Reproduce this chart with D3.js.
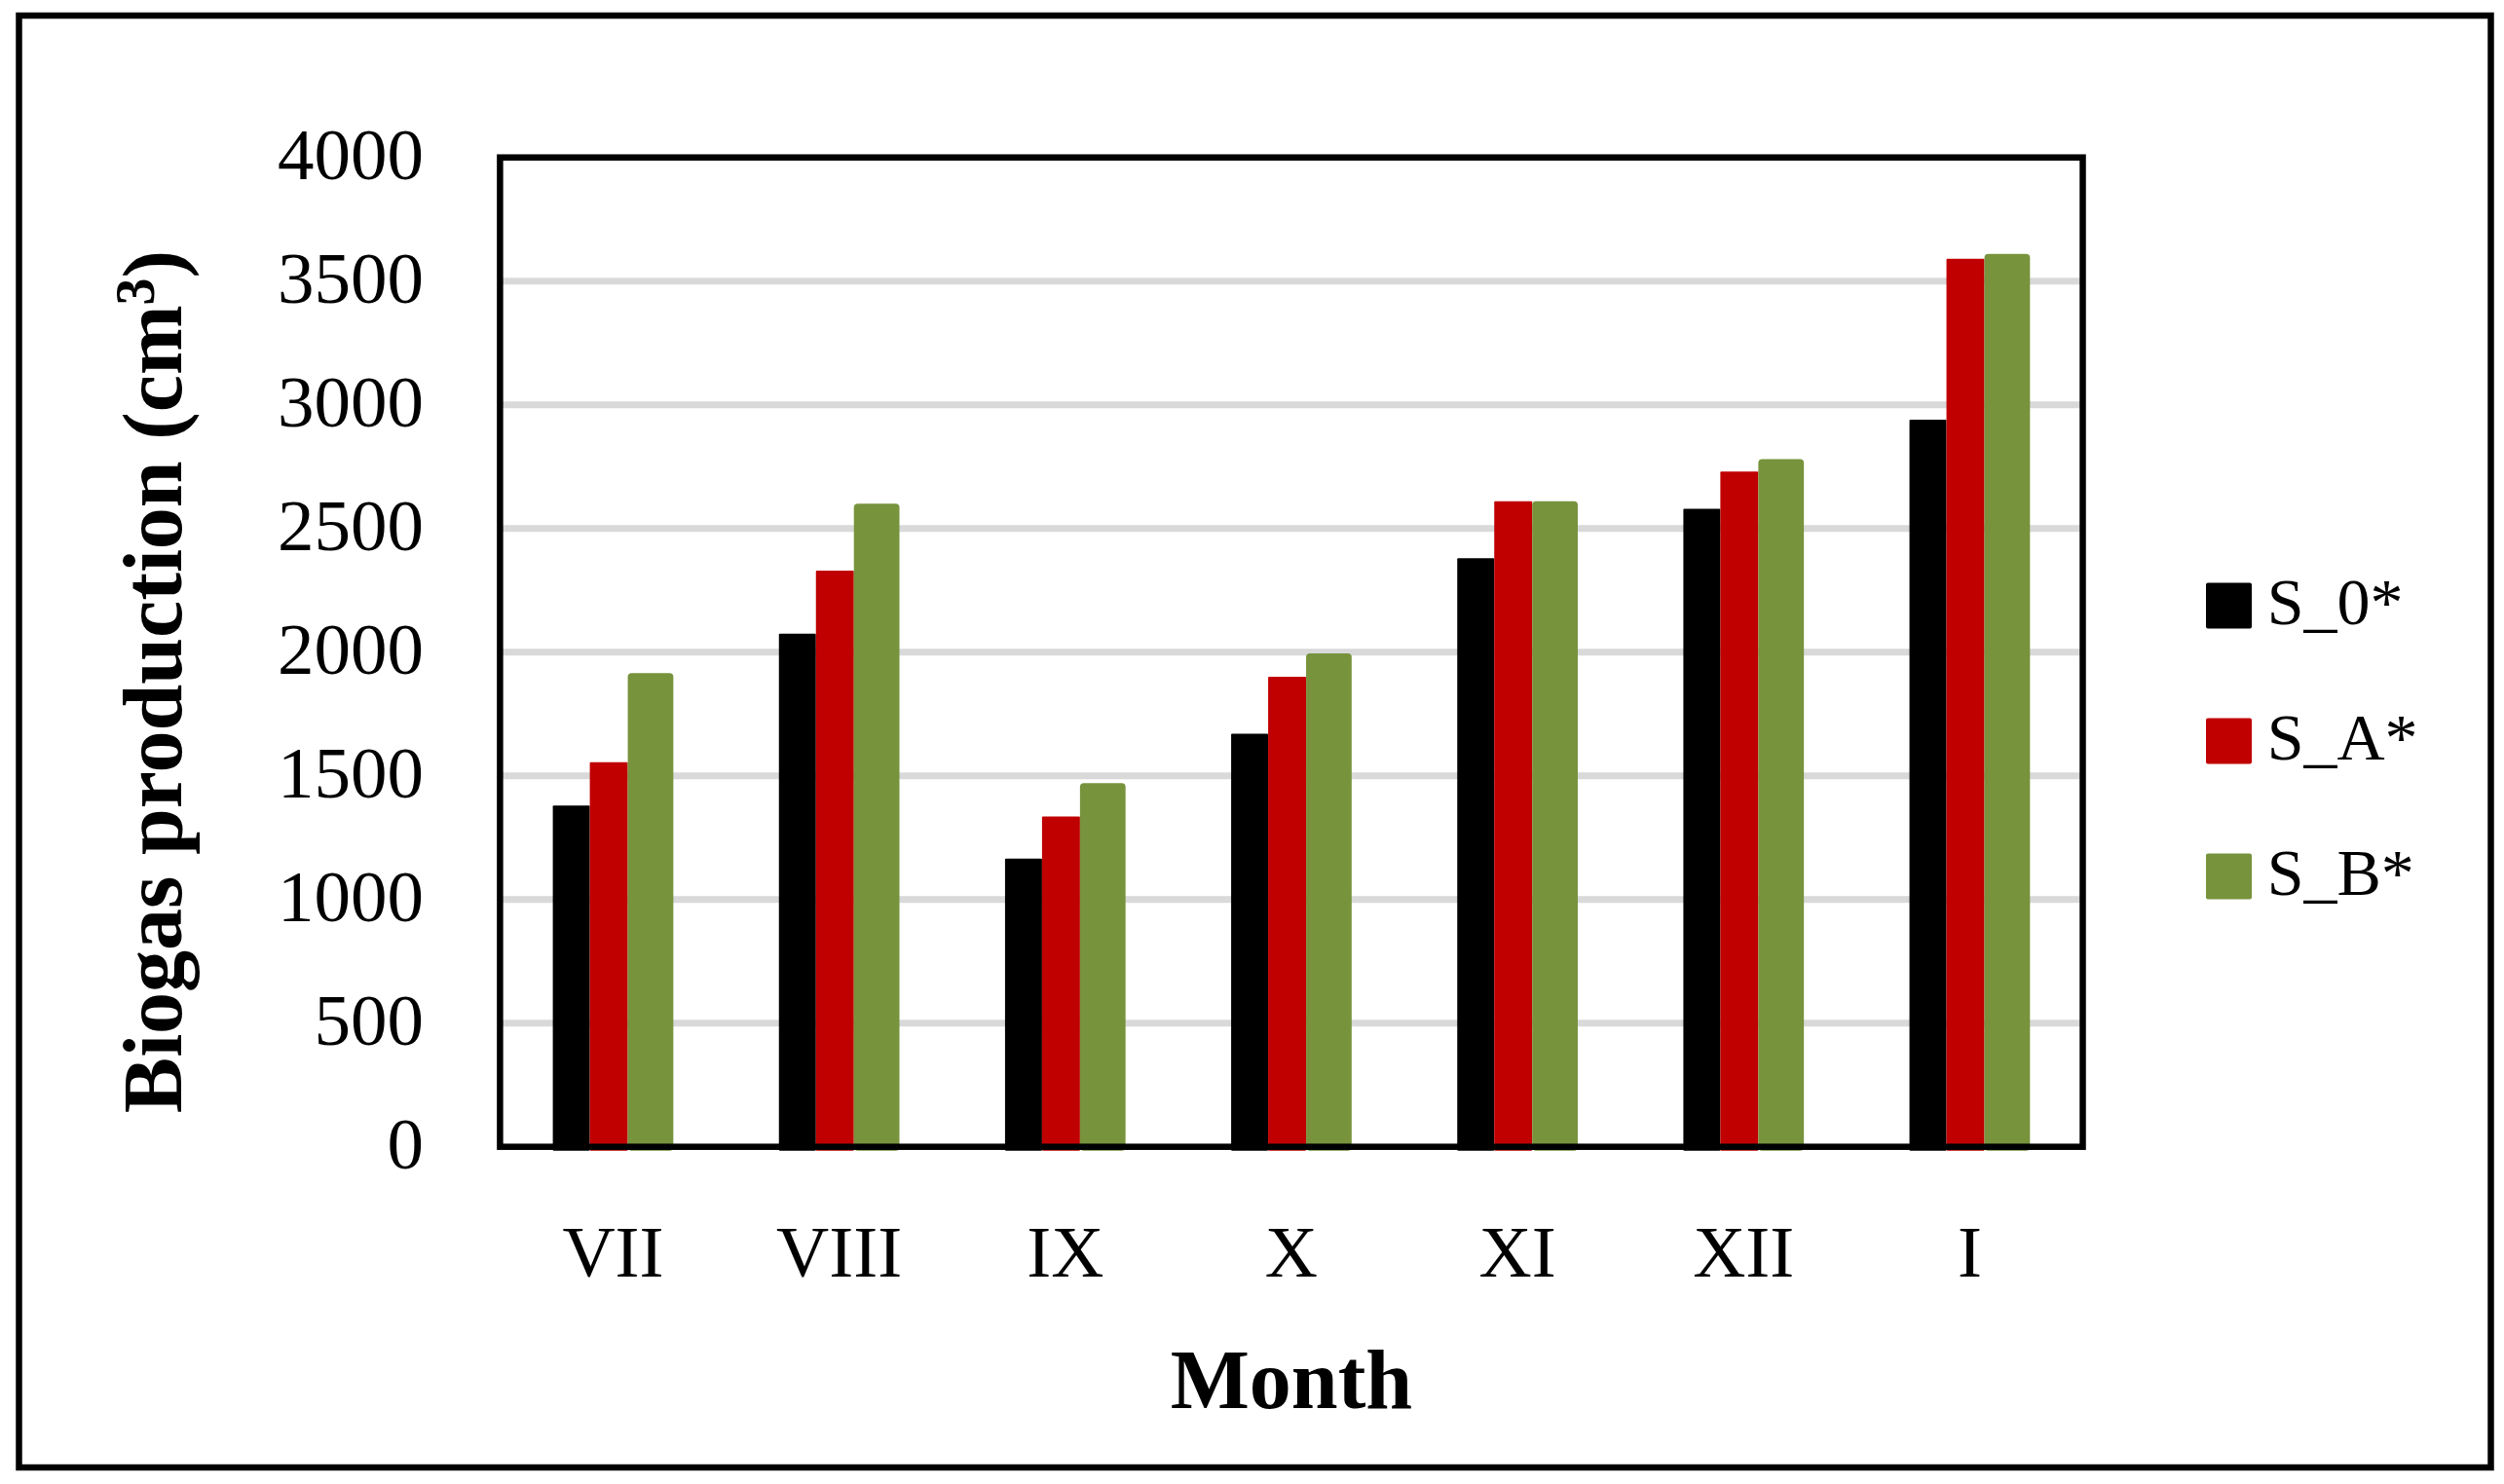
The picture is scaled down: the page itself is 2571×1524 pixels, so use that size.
<!DOCTYPE html>
<html>
<head>
<meta charset="utf-8">
<script src="https://cdn.jsdelivr.net/npm/d3@7/dist/d3.min.js"></script>
<style>
  html, body { margin: 0; padding: 0; background: #fff; }
  svg { display: block; }
</style>
</head>
<body>
<svg id="chart" width="2571" height="1524"></svg>
<script>
// ---- data ----
const categories = ["VII", "VIII", "IX", "X", "XI", "XII", "I"];
const seriesNames = ["S_0*", "S_A*", "S_B*"];
const s0Values = [1380, 2075, 1165, 1670, 2380, 2580, 2940];
const sAValues = [1555, 2330, 1335, 1900, 2610, 2730, 3590];
const sBValues = [1915, 2600, 1470, 1995, 2610, 2780, 3610];
const yTickValues = [0, 500, 1000, 1500, 2000, 2500, 3000, 3500, 4000];

const seriesValues = [s0Values, sAValues, sBValues];
const seriesColors = ["#000000", "#C00000", "#77933C"];

// ---- layout ----
const W = 2571, H = 1524;
const plot = { left: 513.4, right: 2138.5, top: 161.7, bottom: 1177.7 };
const font = "'Liberation Serif', 'Times New Roman', serif";

const svg = d3.select("#chart");
svg.append("rect").attr("width", W).attr("height", H).attr("fill", "#fff");

// outer frame
svg.append("rect")
  .attr("x", 19.5).attr("y", 16)
  .attr("width", 2557.5 - 19.5).attr("height", 1507 - 16)
  .attr("fill", "none").attr("stroke", "#000").attr("stroke-width", 6.5);

const x0 = d3.scaleBand().domain(categories).range([plot.left, plot.right]).paddingInner(0).paddingOuter(0);
const y = d3.scaleLinear().domain([0, 4000]).range([plot.bottom, plot.top]);

// group width (Excel gap width) and per-series visible edges within group
const groupFrac = 0.533;
const edgeFrac = [0, 0.307, 0.622, 1];

// gridlines
svg.append("g").selectAll("line")
  .data(yTickValues.filter(v => v > 0 && v < 4000))
  .join("line")
  .attr("x1", plot.left).attr("x2", plot.right)
  .attr("y1", d => y(d)).attr("y2", d => y(d))
  .attr("stroke", "#D9D9D9").attr("stroke-width", 7);

// bars
const barsG = svg.append("g");
seriesNames.forEach((s, si) => {
  barsG.append("g").selectAll("rect")
    .data(categories.map((c, i) => ({ c, v: seriesValues[si][i] })))
    .join("rect")
    .attr("x", d => {
      const gw = x0.bandwidth() * groupFrac;
      const g0 = x0(d.c) + (x0.bandwidth() - gw) / 2;
      return g0 + gw * edgeFrac[si];
    })
    .attr("width", () => x0.bandwidth() * groupFrac * (edgeFrac[si + 1] - edgeFrac[si]))
    .attr("y", d => y(d.v))
    .attr("height", d => y(0) - y(d.v) + 4)
    .attr("rx", si === 2 ? 4 : 1)
    .attr("fill", seriesColors[si]);
});

// plot frame
svg.append("rect")
  .attr("x", plot.left).attr("y", plot.top)
  .attr("width", plot.right - plot.left).attr("height", plot.bottom - plot.top)
  .attr("fill", "none").attr("stroke", "#000").attr("stroke-width", 6.5);

// y axis
const yAxis = svg.append("g")
  .attr("transform", `translate(${plot.left},0)`)
  .call(d3.axisLeft(y).tickValues(yTickValues).tickSize(0).tickPadding(78.4).tickFormat(d3.format("d")));
yAxis.select(".domain").remove();
yAxis.selectAll("text")
  .attr("dy", 21.5)
  .attr("font-family", font).attr("font-size", 75).attr("fill", "#000");

// x axis
const xAxis = svg.append("g")
  .attr("transform", `translate(0,${plot.bottom})`)
  .call(d3.axisBottom(x0).tickSize(0));
xAxis.select(".domain").remove();
xAxis.selectAll("text")
  .attr("y", 133).attr("dy", 0)
  .attr("font-family", font).attr("font-size", 75).attr("fill", "#000");

// axis titles
svg.append("text")
  .attr("x", (plot.left + plot.right) / 2).attr("y", 1445.7)
  .attr("text-anchor", "middle")
  .attr("font-family", font).attr("font-weight", "bold").attr("font-size", 86)
  .attr("fill", "#000")
  .text("Month");

const yt = svg.append("text")
  .attr("transform", "translate(186,700) rotate(-90)")
  .attr("text-anchor", "middle")
  .attr("font-family", font).attr("font-weight", "bold").attr("font-size", 86)
  .attr("fill", "#000");
yt.append("tspan").text("Biogas production (cm");
yt.append("tspan").attr("font-size", 56).attr("dy", -28).text("3");
yt.append("tspan").attr("dy", 28).text(")");

// legend
const legend = svg.append("g");
seriesNames.forEach((s, i) => {
  const cy = 622 + i * 139;
  legend.append("rect")
    .attr("x", 2265).attr("y", cy - 23.5)
    .attr("width", 47).attr("height", 47).attr("rx", 2)
    .attr("fill", seriesColors[i]);
  legend.append("text")
    .attr("x", 2327.7).attr("y", cy + 18.7)
    .attr("font-family", font).attr("font-size", 68).attr("fill", "#000")
    .text(s);
});
</script>
</body>
</html>
